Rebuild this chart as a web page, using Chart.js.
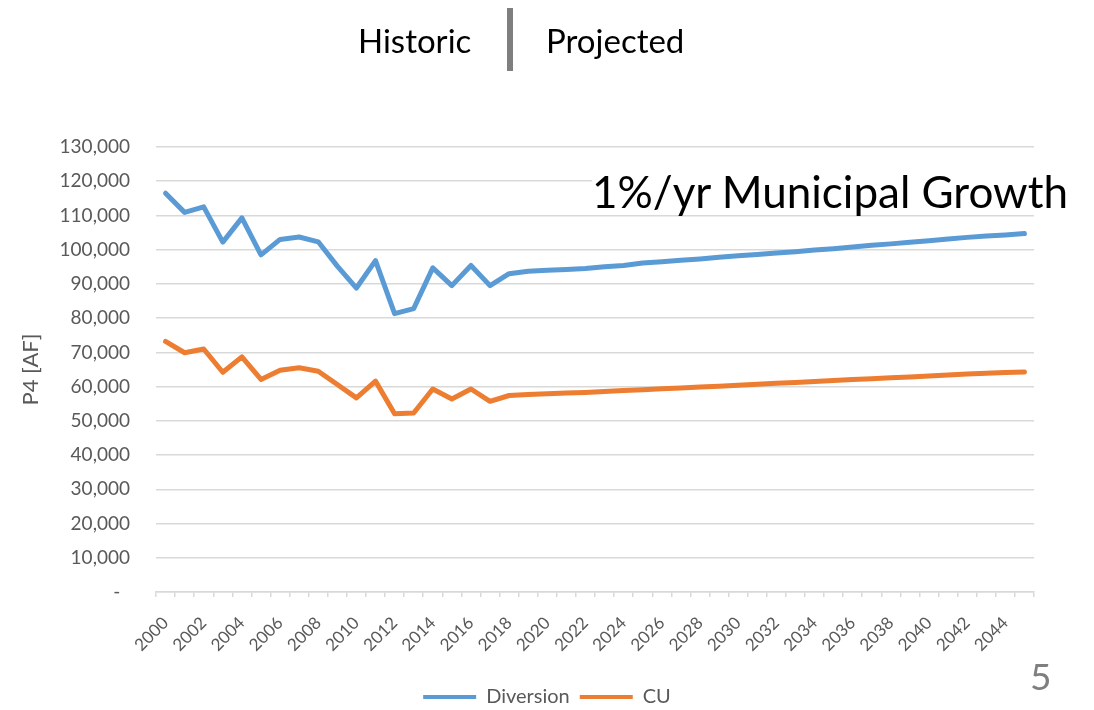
<!DOCTYPE html>
<html>
<head>
<meta charset="utf-8">
<title>P4 Diversion and CU</title>
<script src="https://cdn.jsdelivr.net/npm/chart.js@4.4.1/dist/chart.umd.min.js"></script>
<style>
  body { margin: 0; background: #fff; font-family: Lato, "Open Sans", sans-serif; }
  #wrap { position: relative; width: 1094px; height: 710px; overflow: hidden; }
  #chart-box { position: absolute; left: 0; top: 0; width: 1094px; height: 710px; }
  .txt { position: absolute; white-space: nowrap; line-height: 1; }
  #historic { left: 358px; top: 24px; font-size: 33px; color: #000; }
  #projected { left: 546px; top: 24px; font-size: 33px; color: #000; }
  #divider { position: absolute; left: 507px; top: 8px; width: 6px; height: 63px; background: #7f7f7f; }
  #growth { left: 592px; top: 169px; font-size: 44px; color: #000; background: #fff; }
  #page-num { left: 1030px; top: 657px; font-size: 37px; color: #7f7f7f; }
</style>
</head>
<body>
<div id="wrap">
  <div id="chart-box"><canvas id="p4Chart"></canvas></div>
  <div class="txt" id="historic">Historic</div>
  <div id="divider"></div>
  <div class="txt" id="projected">Projected</div>
  <div class="txt" id="growth">1%/yr Municipal Growth</div>
  <div class="txt" id="page-num">5</div>
</div>
<script>
const years = [
  2000, 2001, 2002, 2003, 2004, 2005, 2006, 2007, 2008, 2009,
  2010, 2011, 2012, 2013, 2014, 2015, 2016, 2017, 2018, 2019,
  2020, 2021, 2022, 2023, 2024, 2025, 2026, 2027, 2028, 2029,
  2030, 2031, 2032, 2033, 2034, 2035, 2036, 2037, 2038, 2039,
  2040, 2041, 2042, 2043, 2044, 2045
];

// AF per year
const diversion = [
  116500, 110900, 112500, 102200, 109300, 98500, 103000, 103700, 102300, 95200,
  88800, 96800, 81300, 82800, 94700, 89500, 95400, 89500, 93000, 93700,
  94000, 94200, 94500, 95000, 95400, 96100, 96500, 96900, 97300, 97800,
  98200, 98600, 99000, 99400, 99900, 100300, 100800, 101300, 101700, 102200,
  102600, 103100, 103600, 104000, 104300, 104700
];

const cu = [
  73200, 69900, 71000, 64200, 68700, 62100, 64800, 65500, 64500, 60600,
  56700, 61600, 52100, 52300, 59300, 56400, 59300, 55700, 57400, 57700,
  57900, 58100, 58300, 58600, 58900, 59100, 59400, 59600, 59900, 60100,
  60400, 60700, 61000, 61200, 61500, 61800, 62100, 62300, 62600, 62800,
  63100, 63400, 63700, 63900, 64100, 64300
];

const yMin = 0;
const yMax = 130000;
const yStep = 10000;

const axisGray = "#595959";
const gridGray = "#d9d9d9";

const ctx = document.getElementById("p4Chart").getContext("2d");

const p4Chart = new Chart(ctx, {
  type: "line",
  data: {
    labels: years,
    datasets: [
      {
        label: "Diversion",
        data: diversion,
        borderColor: "#5b9bd5",
        backgroundColor: "#5b9bd5",
        borderWidth: 5,
        pointRadius: 0,
        tension: 0,
        borderCapStyle: "round",
        borderJoinStyle: "round"
      },
      {
        label: "CU",
        data: cu,
        borderColor: "#ed7d31",
        backgroundColor: "#ed7d31",
        borderWidth: 5,
        pointRadius: 0,
        tension: 0,
        borderCapStyle: "round",
        borderJoinStyle: "round"
      }
    ]
  },
  options: {
    responsive: true,
    maintainAspectRatio: false,
    animation: false,
    layout: { padding: { top: 147, left: 0, right: 0, bottom: -7 } },
    plugins: {
      tooltip: { enabled: false },
      legend: {
        position: "bottom",
        labels: {
          color: axisGray,
          font: { family: "Lato", size: 20 },
          boxWidth: 53,
          boxHeight: 4,
          padding: 10,
          generateLabels: (chart) =>
            Chart.defaults.plugins.legend.labels.generateLabels(chart).map(item => ({
              ...item,
              fillStyle: item.strokeStyle,
              lineWidth: 0
            }))
        }
      }
    },
    scales: {
      x: {
        offset: true,
        grid: {
          offset: true,
          drawOnChartArea: false,
          drawTicks: true,
          tickLength: 5,
          color: gridGray,
          lineWidth: 1.5
        },
        border: { display: true, color: gridGray, width: 1.5 },
        ticks: {
          autoSkip: false,
          maxRotation: 45,
          minRotation: 45,
          padding: 16,
          color: axisGray,
          font: { family: "Lato", size: 17 },
          callback: function (value, index) {
            return index % 2 === 0 ? this.getLabelForValue(value) : "";
          }
        },
        afterFit: (scale) => { scale.height = 85; }
      },
      y: {
        min: yMin,
        max: yMax,
        grid: { color: gridGray, lineWidth: 1.5, drawTicks: false },
        border: { display: false },
        ticks: {
          stepSize: yStep,
          padding: 26,
          color: axisGray,
          font: { family: "Lato", size: 19 },
          callback: (value) => value === 0 ? "-  " : value.toLocaleString("en-US")
        },
        title: {
          display: true,
          text: "P4 [AF]",
          color: axisGray,
          font: { family: "Lato", size: 22 },
          padding: { top: 18, bottom: 0 }
        },
        afterFit: (scale) => { scale.width = 156; }
      },
      yRight: {
        position: "right",
        display: true,
        grid: { drawOnChartArea: false, drawTicks: false },
        border: { display: false },
        ticks: { display: false },
        afterFit: (scale) => { scale.width = 60; }
      }
    }
  }
});
</script>
</body>
</html>
